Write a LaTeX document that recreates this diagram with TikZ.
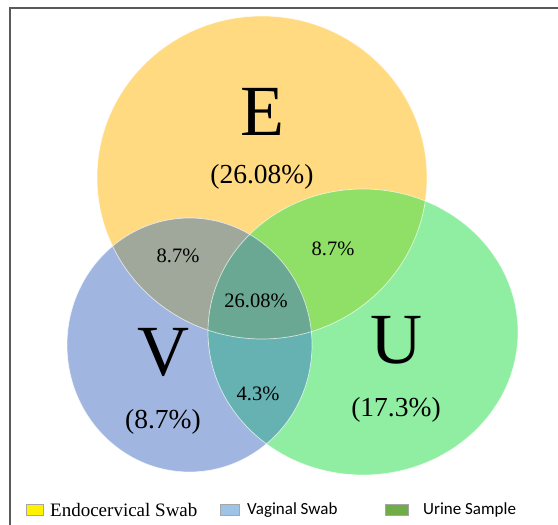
\documentclass[tikz,border=0pt]{standalone}
\usepackage{fontspec}
\setmainfont{Liberation Serif}
\newfontfamily\calib{Carlito}
\definecolor{cE}{HTML}{FFDA80}
\definecolor{cV}{HTML}{A0B6E0}
\definecolor{cU}{HTML}{90EEA2}
\definecolor{cEV}{HTML}{A0A89C}
\definecolor{cEU}{HTML}{90DF66}
\definecolor{cVU}{HTML}{66B1B2}
\definecolor{cEVU}{HTML}{6AA894}
\definecolor{frame}{HTML}{5A5A5A}
\definecolor{legV}{HTML}{9DC3E6}
\definecolor{legU}{HTML}{70AD47}
\tikzset{
  big/.style={font=\fontsize{72}{72}\selectfont, inner sep=0pt},
  pct/.style={font=\fontsize{27.5}{27.5}\selectfont, inner sep=0pt},
  small/.style={font=\fontsize{20.5}{20.5}\selectfont, inner sep=0pt},
  legbox/.style={draw=gray!70, line width=0.6pt},
  legtext/.style={font=\rmfamily\fontsize{19}{19}\selectfont, anchor=west, inner sep=0pt},
  legsans/.style={font=\calib\fontsize{17}{17}\selectfont, anchor=west, inner sep=0pt},
  rim/.style={draw=white, draw opacity=0.7, line width=0.7pt}
}
\def\pathE{(262,177.5) ellipse [x radius=165, y radius=161.5]}
\def\pathV{(189.5,345) ellipse [x radius=122.5, y radius=127]}
\def\pathU{(363,332) ellipse [x radius=155, y radius=143]}
\begin{document}
\begin{tikzpicture}[x=1pt,y=-1pt]
\useasboundingbox (0,0) rectangle (558,525);
\fill[white] (0,0) rectangle (558,525);
% frame
\draw[frame, line width=1.6pt] (10,530) -- (10,8) -- (560,8);
% base fills
\fill[cE] \pathE;
\fill[cV] \pathV;
\fill[cU] \pathU;
\begin{scope}
  \clip \pathE;
  \fill[cEV] \pathV;
  \fill[cEU] \pathU;
\end{scope}
\begin{scope}
  \clip \pathV;
  \fill[cVU] \pathU;
\end{scope}
\begin{scope}
  \clip \pathE;
  \clip \pathV;
  \fill[cEVU] \pathU;
\end{scope}
\draw[rim] \pathE;
\draw[rim] \pathV;
\draw[rim] \pathU;
% labels
\node[big] (lE) at (262,112) {E};
\node[pct] (pE) at (262,177) {(26.08\%)};
\node[big] (lV) at (163,352) {V};
\node[pct] (pV) at (163,422) {(8.7\%)};
\node[big] (lU) at (396,340) {U};
\node[pct] (pU) at (396,410) {(17.3\%)};
\node[small] (ev) at (178,256) {8.7\%};
\node[small] (eu) at (333,249) {8.7\%};
\node[small] (evu) at (256,301) {26.08\%};
\node[small] (vu) at (258,394) {4.3\%};
% legend
\draw[legbox, fill=yellow] (26,504) rectangle (43,515);
\node[legtext] (tE) at (50,510) {Endocervical Swab};
\draw[legbox, fill=legV] (220,504) rectangle (239,515);
\node[legsans] (tV) at (247,510) {Vaginal Swab};
\draw[legbox, fill=legU] (385,504) rectangle (408,515);
\node[legsans] (tU) at (423,510) {Urine Sample};
\end{tikzpicture}
\end{document}
